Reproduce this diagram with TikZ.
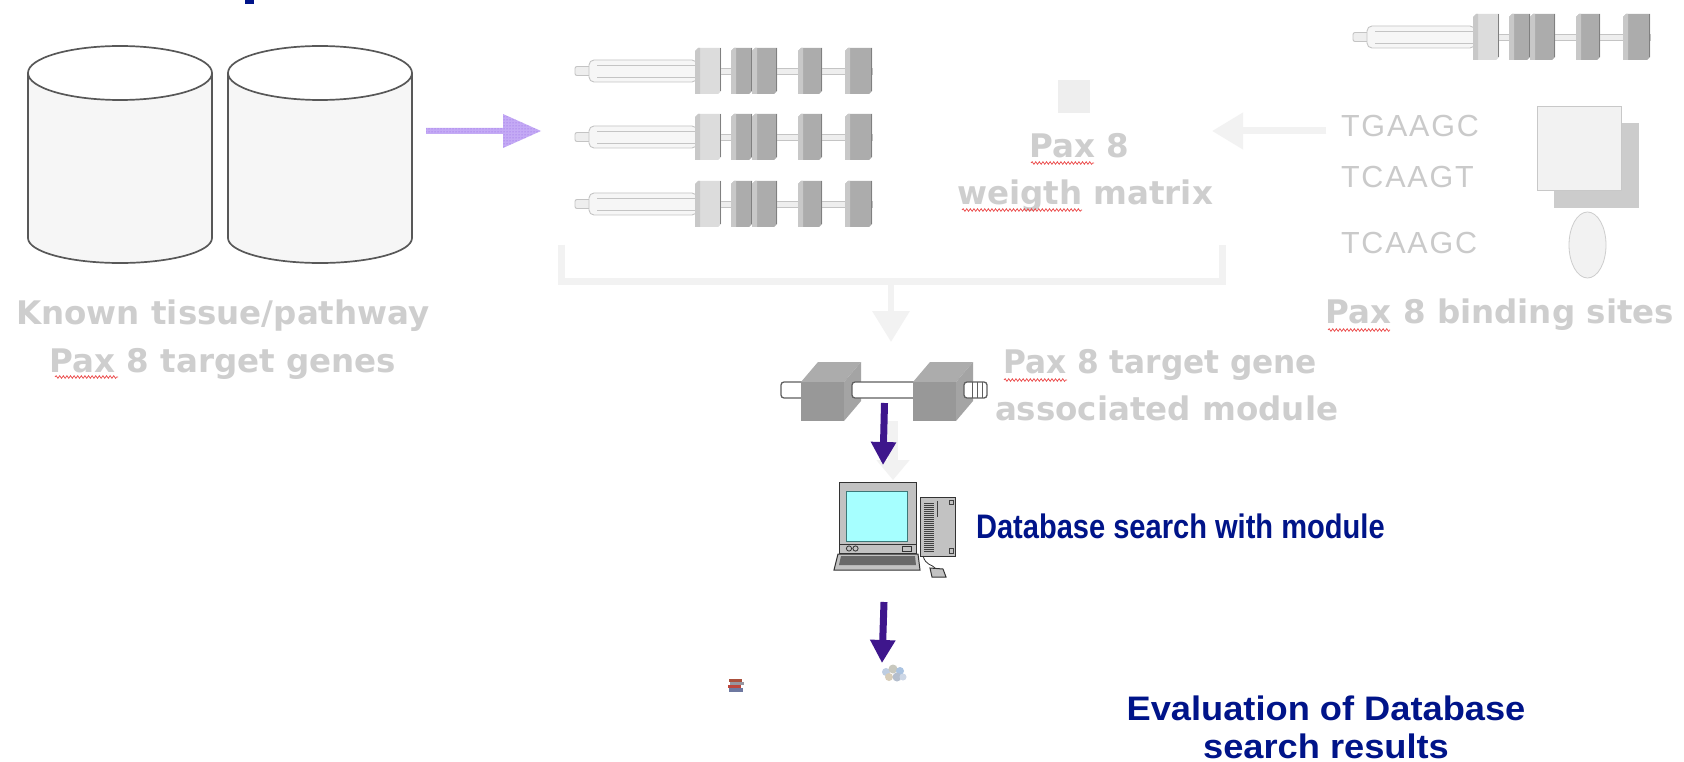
\documentclass[tikz,border=0pt]{standalone}
\usepackage{fontspec}
\usepackage{graphicx}
\setmainfont{Liberation Sans}
\newfontfamily\labelfont{DejaVu Sans}
\newfontfamily\seqfont{Liberation Sans}[LetterSpace=6]
\usetikzlibrary{patterns,decorations.pathmorphing,arrows.meta,calc}

\definecolor{labelgray}{RGB}{206,206,206}
\definecolor{seqgray}{RGB}{202,202,202}
\definecolor{navyblue}{RGB}{0,20,137}
\definecolor{indigo}{RGB}{62,22,140}
\definecolor{lavender}{RGB}{196,170,245}
\definecolor{lavdots}{RGB}{140,95,225}
\definecolor{arrowgray}{RGB}{242,242,242}
\definecolor{cylgray}{RGB}{88,88,88}
\definecolor{cylfill}{RGB}{246,246,246}
\definecolor{spellred}{RGB}{235,70,70}
\definecolor{gfaint}{RGB}{196,196,196}
\definecolor{gA}{RGB}{238,238,238}
\definecolor{gB}{RGB}{246,246,246}
\definecolor{slabLight}{RGB}{220,220,220}
\definecolor{slabMid}{RGB}{172,172,172}
\definecolor{slabEdge}{RGB}{128,128,128}
\definecolor{slabStrip}{RGB}{200,200,200}
\definecolor{cubeFront}{RGB}{152,152,152}
\definecolor{cubeTop}{RGB}{172,172,172}
\definecolor{cubeSide}{RGB}{164,164,164}
\definecolor{rodline}{RGB}{95,95,95}
\definecolor{pcbody}{RGB}{194,194,194}
\definecolor{pcscreen}{RGB}{166,255,255}
\definecolor{pcscreenline}{RGB}{60,120,120}
\definecolor{pckeys}{RGB}{105,105,105}
\definecolor{shadowgray}{RGB}{204,204,204}
\definecolor{squareline}{RGB}{200,200,200}
\definecolor{squarefill}{RGB}{242,242,242}
\definecolor{ovalline}{RGB}{205,205,205}
\definecolor{bookA}{RGB}{170,80,60}
\definecolor{bookB}{RGB}{150,150,160}
\definecolor{bookC}{RGB}{190,70,60}
\definecolor{bookD}{RGB}{110,120,160}
\definecolor{crowdA}{RGB}{190,205,225}
\definecolor{crowdB}{RGB}{200,200,190}
\definecolor{crowdC}{RGB}{170,195,225}
\definecolor{crowdD}{RGB}{215,205,185}
\definecolor{crowdE}{RGB}{180,190,205}
\definecolor{crowdF}{RGB}{205,215,230}

% one exon slab of a gene strip
\newcommand\geneslab[3]{%
  \fill[#3] (#1,23) -- (#1,-20) -- (#1+3,-23) -- (#2,-23) -- (#2,20) -- (#2-3,23) -- cycle;
  \fill[slabStrip] (#1,-20) -- (#1+3,-23) -- (#1+5,-23) -- (#1+5,23) -- (#1,23) -- cycle;
  \draw[slabEdge, line width=1pt] (#2-0.5,-23) -- (#2-0.5,20);
}

\tikzset{
  every node/.style={inner sep=0pt, outer sep=0pt},
  graylabel/.style={text=labelgray, font=\labelfont\fontsize{32.5}{36}\selectfont\bfseries},
  seqtext/.style={text=seqgray, font=\seqfont\fontsize{30.5}{34}\selectfont},
  bluelabel/.style={text=navyblue, font=\fontsize{34}{38}\selectfont\bfseries},
  cylline/.style={draw=cylgray, line width=1.7pt},
  fadearrow/.style={draw=arrowgray},
  darkarrow/.style={draw=indigo, line width=7pt, -{Triangle[width=24pt,length=23pt]}},
  squiggle/.style={draw=spellred, line width=0.7pt, decorate,
    decoration={snake, amplitude=1.3pt, segment length=3.6pt}},
  gfline/.style={draw=gfaint, line width=0.9pt},
  rod/.style={draw=rodline, line width=1.3pt, fill=white},
  pcline/.style={draw=black!80, line width=1pt},
  genestrip/.pic={
    \draw[gfline, fill=gA, rounded corners=2] (0,-4.5) rectangle (18,4.5);
    \draw[gfline, fill=gB, rounded corners=5] (14,-11) rectangle (122,11);
    \draw[gfline] (22,-6) -- (122,-6) (22,6) -- (122,6);
    \draw[gfline, fill=gA] (120,-3) rectangle (297,3);
    \geneslab{120}{146}{slabLight}
    \geneslab{156}{177}{slabMid}
    \geneslab{177}{202}{slabMid}
    \geneslab{223}{247}{slabMid}
    \geneslab{270}{297}{slabMid}
  },
}

\begin{document}
\begin{tikzpicture}[x=1pt, y=-1pt]
\useasboundingbox (0,0) rectangle (1684,762);
\fill[white] (0,0) rectangle (1684,762);

% fragment of a heading above the frame
\fill[navyblue] (245,0) rectangle (254,4);

% ---------- two database cylinders ----------
\foreach \cx in {120,320}{
  \fill[cylfill] (\cx-92,73) rectangle (\cx+92,238);
  \fill[cylfill] (\cx,238) ellipse [x radius=92, y radius=25];
  \draw[cylline] (\cx-92,73) -- (\cx-92,238)
     arc[start angle=180, end angle=0, x radius=92, y radius=25] -- (\cx+92,73);
  \draw[cylline, fill=white] (\cx,73) ellipse [x radius=92, y radius=27];
}
\coordinate (dbR) at (426,131);

\node[graylabel, anchor=base] (known) at (223,324) {Known tissue/pathway};
\node[graylabel, anchor=base] (knownb) at (223,372) {Pax 8 target genes};
\draw[squiggle] (55,377) -- (118,377);

% ---------- dotted arrow into the gene set ----------
\coordinate (genesL) at (541,131);
\fill[lavender] ($(dbR)+(0,-3)$) -- ($(genesL)+(-38,-3)$) -- ($(genesL)+(-38,-17)$) -- (genesL)
   -- ($(genesL)+(-38,17)$) -- ($(genesL)+(-38,3)$) -- ($(dbR)+(0,3)$) -- cycle;
\fill[pattern=dots, pattern color=lavdots] ($(dbR)+(0,-3)$) -- ($(genesL)+(-38,-3)$) -- ($(genesL)+(-38,-17)$) -- (genesL)
   -- ($(genesL)+(-38,17)$) -- ($(genesL)+(-38,3)$) -- ($(dbR)+(0,3)$) -- cycle;

% ---------- known target genes ----------
\pic at (575,71) {genestrip};
\pic at (575,137) {genestrip};
\pic at (575,204) {genestrip};

% ---------- weight matrix ----------
\fill[gA] (1058,80) rectangle (1090,113);
\node[graylabel, anchor=base] (pax) at (1079,158) {Pax 8};
\node[graylabel, anchor=base] (wm) at (1085,205) {weigth matrix};
\draw[squiggle] (1031,163) -- (1094,163);
\draw[squiggle] (962,210) -- (1082,210);

% ---------- binding sites ----------
\pic at (1353,37) {genestrip};
\node[seqtext, anchor=base west] (s1) at (1341,137) {TGAAGC};
\node[seqtext, anchor=base west] (s2) at (1341,188) {TCAAGT};
\node[seqtext, anchor=base west] (s3) at (1341,254) {TCAAGC};
\fill[shadowgray] (1554,123) rectangle (1639,208);
\draw[draw=squareline, fill=squarefill, line width=0.8pt] (1537,106) rectangle (1621,190);
\draw[draw=ovalline, fill=squarefill, line width=0.8pt] (1587.5,245) ellipse [x radius=18.5, y radius=33];
\node[graylabel, anchor=base] (sites) at (1500,323) {Pax 8 binding sites};
\draw[squiggle] (1328,330) -- (1390,330);

% sequences feed the weight matrix
\coordinate (seqL) at (1326,131);
\coordinate (wmR) at (1212,131);
\draw[fadearrow, line width=7pt, -{Triangle[width=35pt,length=31pt]}] (seqL) -- (wmR);

% bracket joining genes and matrix
\coordinate (brL) at (561,245);
\coordinate (brR) at (1222,245);
\coordinate (brM) at (891,281);
\coordinate (modTop) at (891,342);
\draw[fadearrow, line width=7pt] (brL) -- (brL |- brM) -- (brR |- brM) -- (brR);
\draw[fadearrow, line width=6.5pt, -{Triangle[width=36pt,length=31pt]}] (brM) -- (modTop);

% ---------- associated module ----------
\draw[rod, rounded corners=3] (781,382) rectangle (806,398);
\fill[cubeTop] (801,382) -- (818,362) -- (861,362) -- (844,382) -- cycle;
\fill[cubeSide] (844,382) -- (861,362) -- (861,401) -- (844,421) -- cycle;
\fill[cubeFront] (801,382) rectangle (844,421);
\draw[rod, rounded corners=3] (852,382) rectangle (918,398);
\fill[cubeTop] (913,382) -- (930,362) -- (973,362) -- (956,382) -- cycle;
\fill[cubeSide] (956,382) -- (973,362) -- (973,401) -- (956,421) -- cycle;
\fill[cubeFront] (913,382) rectangle (956,421);
\draw[rod, rounded corners=3] (964,382) rectangle (987,398);
\draw[rodline, line width=1pt] (972,382) -- (972,398) (977,382) -- (977,398) (982,382) -- (982,398);
\node[graylabel, anchor=base west] (modA) at (1003,373) {\scalebox{0.96}[1]{Pax 8 target gene}};
\node[graylabel, anchor=base west] (modB) at (995,420) {associated module};
\draw[squiggle] (1004,380) -- (1067,380);

% faint arrow module -> computer, with the dark one over it
\coordinate (modBot) at (893,421);
\coordinate (pcTopF) at (893,480);
\draw[fadearrow, line width=10pt, -{Triangle[width=32pt,length=20pt]}] (modBot) -- (pcTopF);
\coordinate (modOut) at (884.5,403);
\coordinate (pcIn) at (883,465);
\draw[darkarrow] (modOut) -- (pcIn);

% ---------- computer ----------
\draw[pcline, fill=pcbody] (839,482) rectangle (916,553);
\draw[draw=pcscreenline, line width=1pt, fill=pcscreen] (846,491) rectangle (907,541);
\draw[pcline] (839,544) -- (916,544);
\draw[pcline, line width=0.8pt] (849,548.5) circle [radius=2.6] (855.5,548.5) circle [radius=2.6];
\draw[pcline, line width=0.8pt] (902,546) rectangle (911,551);
\draw[pcline, fill=pcbody] (920,497) rectangle (955,556);
\foreach \yy in {503,505,...,551} \draw[black!75, line width=0.8pt] (924,\yy) -- (934,\yy);
\draw[black!75, line width=0.9pt] (937,501) -- (937,517);
\draw[black!75, line width=0.8pt] (949,500) rectangle (953,504);
\draw[black!75, line width=0.8pt] (949,548) rectangle (953,553);
\draw[pcline, fill=pcbody] (838,554) -- (918,554) -- (920,570) -- (834,570) -- cycle;
\fill[pckeys] (841,556) -- (915,556) -- (916,565) -- (839,565) -- cycle;
\draw[pcline, line width=0.8pt] (923,556) .. controls (926,566) and (932,564) .. (935,568);
\draw[pcline, fill=pcbody] (930,568) -- (943,569) -- (946,577) -- (932,577) -- cycle;
\node[bluelabel, anchor=base west] (db) at (976,538) {\scalebox{0.855}[1]{Database search with module}};

% ---------- results ----------
\coordinate (pcOut) at (884,602);
\coordinate (resIn) at (882,663);
\draw[darkarrow] (pcOut) -- (resIn);
% small stack of books
\fill[bookA] (729,679) rectangle (742,682);
\fill[bookB] (730,682) rectangle (744,685);
\fill[bookC] (728,685) rectangle (741,688);
\fill[bookD] (729,688) rectangle (743,692);
% small crowd of people
\foreach \px/\py/\pr/\pc in {886/672/4/crowdA, 893/669/4.5/crowdB, 900/671/4/crowdC,
   889/677/4/crowdD, 897/677/4.5/crowdE, 903/677/3.5/crowdF}
  \fill[\pc] (\px,\py) circle [radius=\pr];
\node[bluelabel, anchor=base] (ev1) at (1326,720) {\scalebox{1.066}[1]{Evaluation of Database}};
\node[bluelabel, anchor=base] (ev2) at (1326,758) {\scalebox{1.066}[1]{search results}};
\end{tikzpicture}
\end{document}
